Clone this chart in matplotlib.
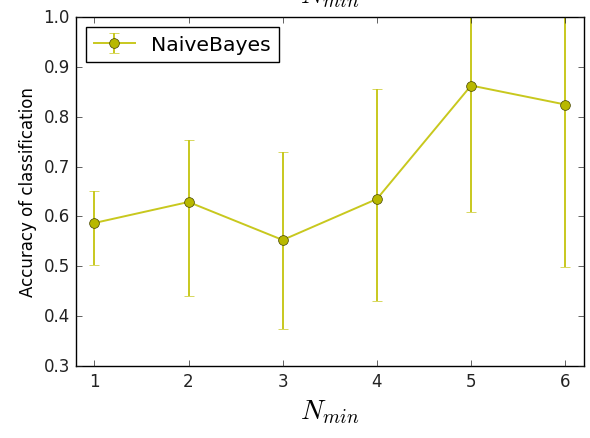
import matplotlib
matplotlib.use("Agg")
import matplotlib.pyplot as plt
import numpy as np

plt.style.use("classic")

n_min = [1, 2, 3, 4, 5, 6]
accuracy = [0.587, 0.629, 0.553, 0.635, 0.862, 0.824]
err_upper = [0.651, 0.754, 0.729, 0.856, 1.115, 1.149]
err_lower = [0.502, 0.441, 0.375, 0.431, 0.609, 0.499]
series_label = "NaiveBayes"

acc = np.array(accuracy)
yerr = [acc - np.array(err_lower), np.array(err_upper) - acc]

fig = plt.figure(figsize=(5.9, 4.39), dpi=100, facecolor="white")
ax = fig.add_axes([0.128, 0.163, 0.862, 0.797])
ax.errorbar(n_min, accuracy, yerr=yerr, color="#c8c81e", marker="o", markersize=7,
            markerfacecolor="#b8b800", markeredgecolor="#444400", linewidth=1.4,
            elinewidth=1.4, capsize=3.5, label=series_label)
ax.set_xlim(0.8, 6.2)
ax.set_ylim(0.3, 1.0)
ax.set_xticks(n_min)
ax.set_yticks([0.3, 0.4, 0.5, 0.6, 0.7, 0.8, 0.9, 1.0])
ax.tick_params(labelsize=12, colors="#222222")
ax.set_xlabel(r"$N_{min}$", fontsize=20)
ax.set_ylabel("Accuracy of classification", fontsize=12)
ax.set_title(r"$N_{min}$", fontsize=20, pad=10)
leg = ax.legend(loc="upper left", fontsize=14.7, numpoints=1, fancybox=False,
                borderaxespad=0.5)
leg.get_frame().set_edgecolor("black")

fig.savefig("out.png", dpi=100, facecolor="white")
